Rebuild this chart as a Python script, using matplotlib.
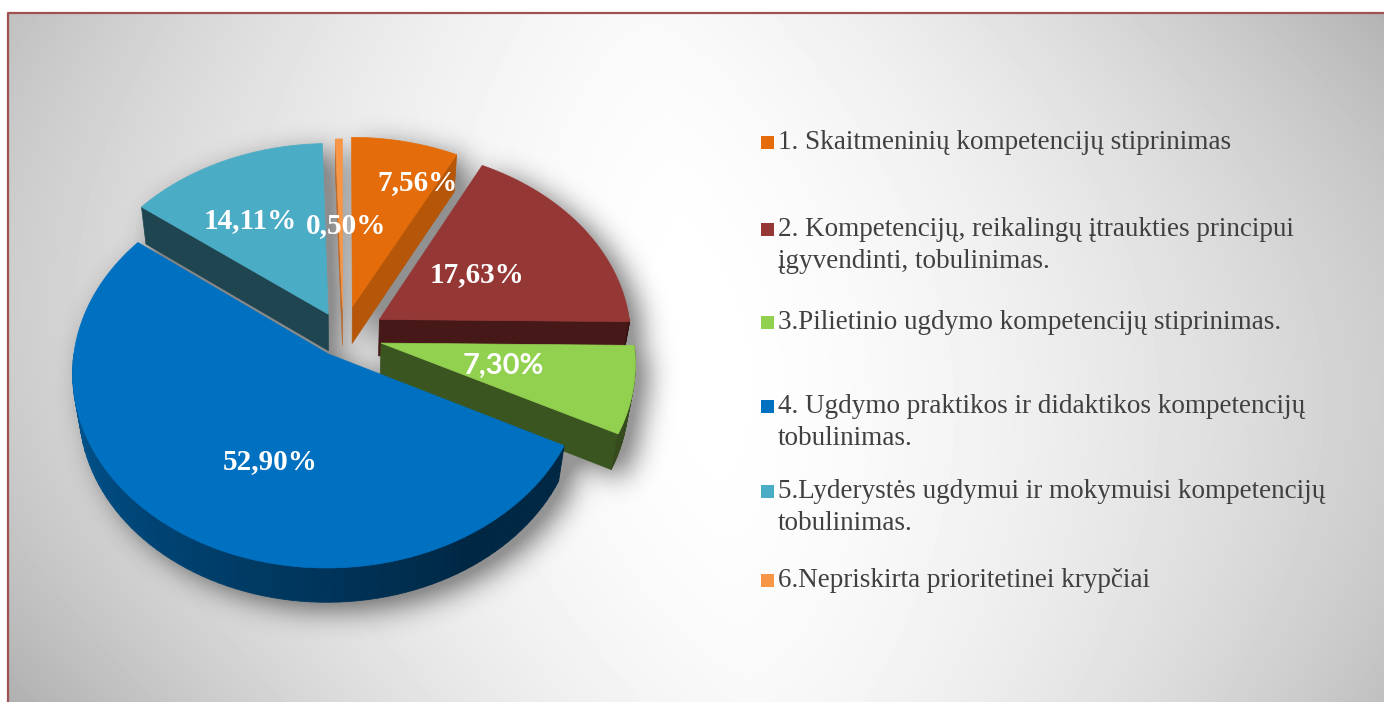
import numpy as np
import matplotlib
matplotlib.use("Agg")
import matplotlib.pyplot as plt
from matplotlib.patches import Polygon, Rectangle
from matplotlib.path import Path

# duomenys
labels = [
    "1. Skaitmeninių kompetencijų stiprinimas",
    "2. Kompetencijų, reikalingų įtraukties principui\nįgyvendinti, tobulinimas.",
    "3.Pilietinio ugdymo kompetencijų stiprinimas.",
    "4. Ugdymo praktikos ir didaktikos kompetencijų\ntobulinimas.",
    "5.Lyderystės ugdymui ir mokymuisi kompetencijų\ntobulinimas.",
    "6.Nepriskirta prioritetinei krypčiai",
]
values = [7.56, 17.63, 7.30, 52.90, 14.11, 0.50]
top_colors = ["#E46C0A", "#953735", "#92D050", "#0070C0", "#4BACC6", "#F79646"]
side_colors = ["#B55608", "#461818", "#3B5520", "#0B4E8C", "#1F4550", "#B86A30"]
explode = [0.16, 0.17, 0.155, 0.11, 0.13, 0.145]

# etikečių vieta (spindulio dalis, kampo poslinkis), šriftai
label_r = [0.77, 0.47, 0.49, 0.57, 0.62, 0.47]
label_dang = [8, 0, 0, -10, -5, 3]
label_font = ["Liberation Serif", "Liberation Serif", "Lato",
              "Liberation Serif", "Liberation Serif", "Liberation Serif"]

W, H = 1384, 702
cx, cy = 343, 336
scale = 252
elev = np.arcsin(0.756)
cam = 7.0
depth = 0.226


def proj(X, Y, Z):
    D = -Y * np.cos(elev) + Z * np.sin(elev)
    s = cam / (cam - D)
    return cx + scale * X * s, cy - scale * (Y * np.sin(elev) + Z * np.cos(elev)) * s


def pts(X, Y, Z):
    x, y = proj(np.asarray(X, float), np.asarray(Y, float), np.asarray(Z, float))
    return np.column_stack([np.atleast_1d(x), np.atleast_1d(y)])


def blur(a, sigma):
    r = int(3 * sigma)
    k = np.exp(-0.5 * (np.arange(-r, r + 1) / sigma) ** 2)
    k /= k.sum()
    a = np.apply_along_axis(lambda v: np.convolve(v, k, mode="same"), 0, a)
    a = np.apply_along_axis(lambda v: np.convolve(v, k, mode="same"), 1, a)
    return a


fig = plt.figure(figsize=(W / 100, H / 100), dpi=100)
ax = fig.add_axes([0, 0, 1, 1])
fig.patch.set_facecolor("white")

# fonas
fx0, fy0 = 8, 13
yy, xx = np.mgrid[fy0:H, fx0:W] + 0.5
xc = 700 + 0.15 * (yy - 350)
dx = np.abs(xx - xc) / 660
dy = np.abs(yy - 350) / 330
drop = 47 * dx ** 1.5 * (1 + 0.25 * dy ** 2) + 6 * dy ** 2
bg = np.clip(255 - drop, 0, 255) / 255
ax.imshow(bg, cmap="gray", vmin=0, vmax=1, extent=(fx0, W, H, fy0),
          zorder=0, interpolation="bilinear", aspect="auto")
ax.plot([fx0, fx0, W], [H, fy0, fy0], color="#A05252", lw=1.6, zorder=1,
        solid_capstyle="butt")

# skiltys
frac = np.array(values) / sum(values)
edges = np.concatenate([[0], np.cumsum(frac)]) * 2 * np.pi
slices = []
for i in range(len(values)):
    t0, t1 = edges[i], edges[i + 1]
    m = (t0 + t1) / 2
    ox, oy = explode[i] * np.sin(m), explode[i] * np.cos(m)
    n = max(int(np.degrees(t1 - t0)), 4)
    t = np.linspace(t0, t1, n)
    slices.append(dict(i=i, t0=t0, t1=t1, m=m, ox=ox, oy=oy, t=t))

# šešėlis
step = 2
gy, gx = np.mgrid[0:H:step, 0:W:step]
grid = np.column_stack([gx.ravel() + 0.5, gy.ravel() + 0.5])
mask = np.zeros(len(grid), bool)
for s in slices:
    ox, oy, t = s["ox"], s["oy"], s["t"]
    ax_t = ox + np.sin(t)
    ay_t = oy + np.cos(t)
    top = np.vstack([pts(ox, oy, 0), pts(ax_t, ay_t, 0 * t)])
    bot = np.vstack([pts(ox, oy, -depth), pts(ax_t, ay_t, 0 * t - depth)])
    rim = np.vstack([pts(ax_t, ay_t, 0 * t), pts(ax_t, ay_t, 0 * t - depth)[::-1]])
    w0 = np.vstack([top[0], top[1], bot[1], bot[0]])
    w1 = np.vstack([top[0], top[-1], bot[-1], bot[0]])
    for poly in (top, bot, rim, w0, w1):
        mask |= Path(poly).contains_points(grid)
mask = mask.reshape(gx.shape).astype(float)
mask = np.roll(np.roll(mask, 4, axis=0), 6, axis=1)
shadow = np.clip(blur(mask, 7) * 0.55, 0, 0.4)
rgba = np.zeros(mask.shape + (4,))
rgba[..., 3] = shadow
ax.imshow(rgba, extent=(0, W, H, 0), zorder=2, interpolation="bilinear", aspect="auto")

# piešimas nuo galinių iki priekinių
order = sorted(slices, key=lambda s: -np.cos(s["m"]))
z = 3
for s in order:
    i, ox, oy, t = s["i"], s["ox"], s["oy"], s["t"]
    t0, t1 = s["t0"], s["t1"]
    col = np.array(matplotlib.colors.to_rgb(top_colors[i]))
    # šoninės sienelės
    walls = []
    if np.sin(t0) < 0:
        walls.append(t0)
    if np.sin(t1) > 1e-6:
        walls.append(t1)
    for tw in walls:
        q = np.vstack([pts(ox, oy, 0), pts(ox + np.sin(tw), oy + np.cos(tw), 0),
                       pts(ox + np.sin(tw), oy + np.cos(tw), -depth), pts(ox, oy, -depth)])
        ax.add_patch(Polygon(q, closed=True, fc=side_colors[i], ec=side_colors[i], lw=0.5, zorder=z))
    # išorinė sienelė
    a0, a1 = max(t0, np.pi / 2), min(t1, 1.5 * np.pi)
    if a1 > a0:
        ta = np.linspace(a0, a1, max(int(np.degrees(a1 - a0) / 2), 2) + 1)
        for k in range(len(ta) - 1):
            tt = ta[k:k + 2]
            q = np.vstack([pts(ox + np.sin(tt), oy + np.cos(tt), 0 * tt),
                           pts(ox + np.sin(tt), oy + np.cos(tt), 0 * tt - depth)[::-1]])
            tm = np.degrees(tt.mean())
            f = 0.36 + 0.42 * np.clip((tm - 150) / 120, 0, 1)
            c = col * f
            ax.add_patch(Polygon(q, closed=True, fc=c, ec=c, lw=0.6, zorder=z))
    # viršus
    top = np.vstack([pts(ox, oy, 0), pts(ox + np.sin(t), oy + np.cos(t), 0 * t)])
    ax.add_patch(Polygon(top, closed=True, fc=top_colors[i], ec=top_colors[i], lw=0.5, zorder=z + 1))
    z += 2

# procentų etiketės
for s in slices:
    i = s["i"]
    a = s["m"] + np.radians(label_dang[i])
    r = label_r[i]
    lx, ly = proj(s["ox"] + r * np.sin(a), s["oy"] + r * np.cos(a), 0.0)
    txt = f"{values[i]:.2f}%".replace(".", ",")
    ax.text(lx, ly, txt, color="white", fontsize=21, fontweight="bold",
            family=label_font[i], ha="center", va="center", zorder=30)

# legenda
leg_y = [149, 236, 329, 413, 498, 587]
line_h = 32
for i, lab in enumerate(labels):
    ax.add_patch(Rectangle((761, leg_y[i] - 13), 13, 13, fc=top_colors[i], ec="none", zorder=30))
    for j, line in enumerate(lab.split("\n")):
        ax.text(778, leg_y[i] + j * line_h, line, fontsize=19.5, family="Liberation Serif",
                color="#404040", ha="left", va="baseline", zorder=30)

ax.set_xlim(0, W)
ax.set_ylim(H, 0)
ax.axis("off")
fig.savefig("out.png", dpi=100)
